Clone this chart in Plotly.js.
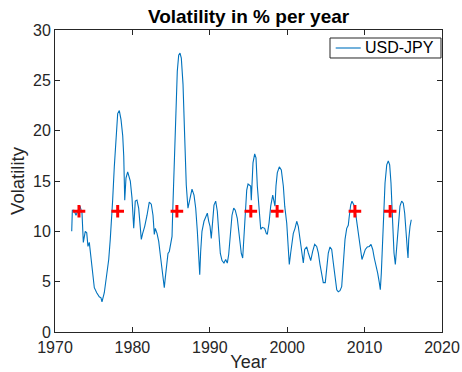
<!DOCTYPE html>
<html>
<head>
<meta charset="utf-8">
<script src="https://cdn.plot.ly/plotly-3.0.1.min.js"></script>
<style>
  html, body { margin: 0; padding: 0; background: #ffffff; }
  #chart { width: 462px; height: 372px; }
</style>
</head>
<body>
<div id="chart"></div>
<script>
// Annualised USD-JPY volatility (%), sampled along the time axis (decimal years)
const years = [
  1972.16, 1972.24, 1972.45, 1972.71, 1973.23, 1973.49, 1973.66, 1973.91, 1974.10, 1974.26,
  1974.43, 1974.65, 1974.87, 1975.08, 1975.39, 1975.72, 1975.94, 1976.07, 1976.37, 1976.68,
  1976.94, 1977.14, 1977.33, 1977.45, 1977.66, 1977.88, 1978.10, 1978.31, 1978.53, 1978.75,
  1978.88, 1979.01, 1979.17, 1979.39, 1979.60, 1979.73, 1979.95, 1980.17, 1980.37, 1980.59,
  1980.81, 1981.02, 1981.15, 1981.33, 1981.59, 1981.89, 1982.18, 1982.44, 1982.66, 1982.83,
  1982.96, 1983.18, 1983.40, 1983.60, 1983.82, 1984.04, 1984.12, 1984.25, 1984.43, 1984.60,
  1984.77, 1984.95, 1985.12, 1985.21, 1985.34, 1985.47, 1985.63, 1985.80, 1985.98, 1986.15,
  1986.32, 1986.54, 1986.76, 1986.96, 1987.18, 1987.40, 1987.70, 1987.96, 1988.18, 1988.39,
  1988.57, 1988.70, 1988.82, 1988.99, 1989.25, 1989.51, 1989.68, 1989.86, 1990.03, 1990.19,
  1990.37, 1990.54, 1990.76, 1990.97, 1991.15, 1991.36, 1991.58, 1991.83, 1992.05, 1992.26,
  1992.44, 1992.65, 1992.87, 1993.09, 1993.29, 1993.55, 1993.86, 1994.07, 1994.25, 1994.42,
  1994.59, 1994.77, 1994.94, 1995.16, 1995.28, 1995.36, 1995.45, 1995.58, 1995.80, 1995.97,
  1996.14, 1996.36, 1996.58, 1996.78, 1997.09, 1997.30, 1997.43, 1997.65, 1997.87, 1998.13,
  1998.29, 1998.42, 1998.55, 1998.72, 1998.98, 1999.24, 1999.50, 1999.68, 1999.94, 2000.10,
  2000.27, 2000.45, 2000.58, 2000.79, 2001.01, 2001.23, 2001.43, 2001.65, 2001.91, 2002.08,
  2002.26, 2002.52, 2002.73, 2003.04, 2003.29, 2003.55, 2003.81, 2004.02, 2004.24, 2004.46,
  2004.66, 2004.92, 2005.10, 2005.31, 2005.53, 2005.75, 2005.96, 2006.18, 2006.40, 2006.60,
  2006.82, 2007.04, 2007.25, 2007.47, 2007.69, 2007.89, 2008.02, 2008.20, 2008.37, 2008.63,
  2008.80, 2009.02, 2009.24, 2009.44, 2009.66, 2009.88, 2010.09, 2010.35, 2010.61, 2010.83,
  2011.05, 2011.25, 2011.47, 2011.69, 2011.90, 2012.03, 2012.16, 2012.34, 2012.47, 2012.64,
  2012.86, 2013.06, 2013.24, 2013.41, 2013.63, 2013.80, 2013.97, 2014.15, 2014.35, 2014.57,
  2014.79, 2015.00, 2015.18, 2015.35, 2015.52, 2015.61, 2015.70, 2015.87, 2016.03
];
const volatility = [
  10.0, 12.1, 12.1, 11.6, 12.5, 11.8, 8.9, 10.0, 9.85, 8.5,
  8.9, 7.5, 5.9, 4.4, 3.9, 3.5, 3.4, 3.0, 3.9, 5.5,
  7.2, 9.2, 11.2, 13.1, 16.4, 19.8, 21.7, 22.0, 21.1, 19.5,
  17.5, 13.1, 15.3, 15.9, 15.3, 15.0, 13.3, 10.3, 13.0, 13.1,
  12.3, 10.0, 9.2, 9.8, 10.5, 11.6, 12.9, 12.7, 11.6, 9.7,
  10.3, 9.8, 9.0, 7.7, 6.0, 4.7, 4.4, 5.4, 7.0, 7.8,
  8.0, 8.7, 9.5, 12.0, 15.6, 18.6, 22.6, 25.9, 27.5, 27.7,
  27.2, 24.6, 19.3, 14.6, 12.3, 13.0, 14.2, 13.6, 12.3, 10.0,
  7.3, 5.7, 8.0, 10.0, 11.0, 11.6, 11.8, 11.0, 10.5, 9.3,
  11.3, 12.6, 13.0, 12.0, 10.0, 7.8, 7.1, 6.85, 7.2, 6.85,
  7.7, 9.7, 11.6, 12.3, 12.1, 11.3, 9.5, 7.8, 7.35, 9.5,
  11.8, 14.1, 14.7, 14.6, 14.5, 13.1, 14.8, 16.8, 17.7, 17.3,
  14.5, 11.8, 10.2, 10.4, 10.3, 9.8, 9.7, 10.8, 12.5, 13.6,
  13.1, 12.5, 14.5, 15.8, 16.4, 16.1, 14.5, 12.5, 10.8, 9.2,
  6.7, 7.85, 8.5, 9.8, 10.3, 11.0, 10.5, 9.3, 7.85, 6.85,
  8.2, 8.45, 7.85, 7.1, 8.0, 8.7, 8.5, 7.85, 6.7, 5.5,
  4.9, 4.9, 6.2, 7.85, 8.45, 8.2, 6.85, 5.2, 4.2, 4.0,
  4.1, 4.5, 6.5, 9.2, 10.3, 10.6, 11.5, 12.6, 13.0, 12.6,
  12.0, 10.8, 9.5, 8.2, 7.2, 7.7, 8.2, 8.45, 8.5, 8.7,
  8.2, 7.35, 6.7, 5.85, 4.9, 4.2, 5.85, 9.2, 12.1, 14.8,
  16.6, 17.0, 16.6, 14.8, 10.8, 7.85, 6.7, 8.5, 10.8, 12.5,
  13.0, 12.8, 11.8, 9.5, 8.2, 7.35, 9.2, 10.5, 11.15
];

// Marked event dates, drawn at a common level of 12 %
const eventYears = [1973.1, 1978.1, 1985.75, 1995.3, 1998.7, 2008.75, 2013.3];
const eventLevel = [12, 12, 12, 12, 12, 12, 12];

const seriesName = 'USD-JPY';
const chartTitle = 'Volatility in % per year';
const xTitle = 'Year';
const yTitle = 'Volatility';

const FONT = 'Liberation Sans, Arial, Helvetica, sans-serif';
const AXIS_COLOR = '#262626';
const LINE_COLOR = '#0072BD';

const traces = [
  {
    x: years,
    y: volatility,
    type: 'scatter',
    mode: 'lines',
    name: seriesName,
    showlegend: false,
    line: { color: LINE_COLOR, width: 1.1 }
  },
  {
    x: eventYears,
    y: eventLevel,
    type: 'scatter',
    mode: 'markers',
    showlegend: false,
    marker: {
      symbol: 'cross-thin',
      size: 9,
      color: '#FF0000',
      line: { color: '#FF0000', width: 3 }
    }
  }
];

const axisCommon = {
  showgrid: false,
  zeroline: false,
  showline: true,
  mirror: 'ticks',
  linecolor: AXIS_COLOR,
  linewidth: 1,
  ticks: 'inside',
  ticklen: 5,
  tickwidth: 1,
  tickcolor: AXIS_COLOR,
  tickfont: { family: FONT, size: 16, color: AXIS_COLOR }
};

// Compact boxed legend in the upper-right corner of the axes
const legendBox = { x0: 0.7106, x1: 0.9974, y0: 0.9073, y1: 0.9735 };
const legendMidY = (legendBox.y0 + legendBox.y1) / 2;

const layout = {
  width: 462,
  height: 372,
  margin: { l: 55, r: 20, t: 30, b: 40 },
  paper_bgcolor: '#ffffff',
  plot_bgcolor: '#ffffff',
  font: { family: FONT, color: AXIS_COLOR },
  showlegend: false,
  title: {
    text: '<b>' + chartTitle + '</b>',
    font: { family: FONT, size: 19, color: '#000000' },
    x: 0.538,
    xanchor: 'center',
    y: 0.955,
    yanchor: 'middle',
    yref: 'container'
  },
  xaxis: Object.assign({}, axisCommon, {
    range: [1970, 2020],
    tick0: 1970,
    dtick: 10,
    ticklabelstandoff: 1,
    title: { text: xTitle, font: { family: FONT, size: 18, color: AXIS_COLOR }, standoff: 8 }
  }),
  yaxis: Object.assign({}, axisCommon, {
    range: [0, 30],
    tick0: 0,
    dtick: 5,
    title: { text: yTitle, font: { family: FONT, size: 18.5, color: AXIS_COLOR }, standoff: 3 }
  }),
  shapes: [
    {
      type: 'rect', xref: 'paper', yref: 'paper',
      x0: legendBox.x0, x1: legendBox.x1, y0: legendBox.y0, y1: legendBox.y1,
      line: { color: AXIS_COLOR, width: 1 }, fillcolor: '#ffffff', layer: 'above'
    },
    {
      type: 'line', xref: 'paper', yref: 'paper',
      x0: 0.7253, x1: 0.790, y0: legendMidY, y1: legendMidY,
      line: { color: LINE_COLOR, width: 1.1 }, layer: 'above'
    }
  ],
  annotations: [
    {
      text: seriesName, xref: 'paper', yref: 'paper',
      x: 0.797, y: legendMidY, xanchor: 'left', yanchor: 'middle',
      showarrow: false,
      font: { family: FONT, size: 16, color: '#000000' }
    }
  ]
};

Plotly.newPlot('chart', traces, layout, { displayModeBar: false, staticPlot: true });
</script>
</body>
</html>
